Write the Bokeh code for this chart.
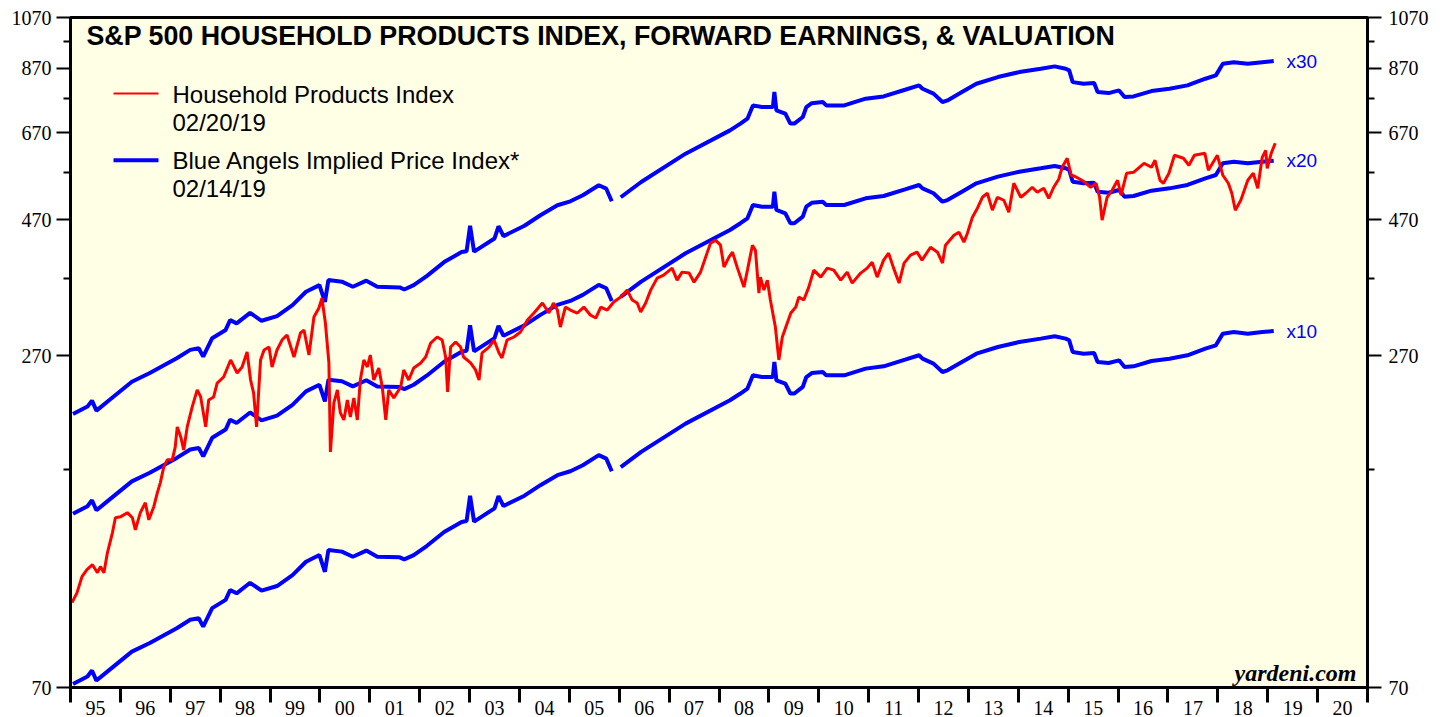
import numpy as np
from bokeh.plotting import figure
from bokeh.models import (FixedTicker, LogAxis, NumeralTickFormatter, Label, Range1d)
from bokeh.embed import file_html
from bokeh.resources import INLINE

# ---------------- data ----------------
# S&P 500 Household Products Index (red)
hp_year = [
    1995.03, 1995.13, 1995.23, 1995.33, 1995.44, 1995.54, 1995.60, 1995.67, 1995.74, 1995.84,
    1995.90, 1996.00, 1996.14, 1996.24, 1996.30, 1996.40, 1996.50, 1996.57, 1996.67, 1996.74,
    1996.80, 1996.87, 1996.94, 1997.04, 1997.10, 1997.14, 1997.21, 1997.27, 1997.34, 1997.44,
    1997.54, 1997.61, 1997.71, 1997.77, 1997.87, 1997.94, 1998.07, 1998.21, 1998.34, 1998.44,
    1998.54, 1998.61, 1998.67, 1998.73, 1998.81, 1998.88, 1998.98, 1999.04, 1999.14, 1999.24,
    1999.34, 1999.48, 1999.61, 1999.68, 1999.78, 1999.88, 1999.98, 2000.04, 2000.11, 2000.18,
    2000.21, 2000.28, 2000.35, 2000.41, 2000.48, 2000.55, 2000.61, 2000.68, 2000.75, 2000.81,
    2000.88, 2000.95, 2001.01, 2001.08, 2001.18, 2001.25, 2001.32, 2001.38, 2001.48, 2001.62,
    2001.68, 2001.78, 2001.88, 2002.02, 2002.12, 2002.22, 2002.35, 2002.45, 2002.52, 2002.56,
    2002.62, 2002.72, 2002.82, 2002.88, 2003.02, 2003.12, 2003.19, 2003.25, 2003.39, 2003.49,
    2003.59, 2003.65, 2003.75, 2003.89, 2004.02, 2004.16, 2004.29, 2004.46, 2004.59, 2004.68,
    2004.76, 2004.82, 2004.92, 2005.02, 2005.16, 2005.29, 2005.42, 2005.53, 2005.63, 2005.76,
    2005.89, 2006.03, 2006.16, 2006.26, 2006.36, 2006.43, 2006.53, 2006.63, 2006.76, 2006.89,
    2007.06, 2007.16, 2007.26, 2007.40, 2007.50, 2007.63, 2007.76, 2007.83, 2007.93, 2008.03,
    2008.10, 2008.20, 2008.27, 2008.37, 2008.50, 2008.57, 2008.67, 2008.73, 2008.80, 2008.83,
    2008.90, 2008.97, 2009.03, 2009.13, 2009.20, 2009.27, 2009.34, 2009.44, 2009.54, 2009.60,
    2009.70, 2009.80, 2009.90, 2010.04, 2010.17, 2010.30, 2010.44, 2010.57, 2010.67, 2010.84,
    2010.97, 2011.07, 2011.17, 2011.30, 2011.40, 2011.50, 2011.61, 2011.71, 2011.84, 2011.97,
    2012.07, 2012.24, 2012.38, 2012.48, 2012.54, 2012.71, 2012.81, 2012.91, 2012.98, 2013.08,
    2013.18, 2013.28, 2013.38, 2013.48, 2013.58, 2013.71, 2013.81, 2013.91, 2014.05, 2014.15,
    2014.28, 2014.38, 2014.51, 2014.61, 2014.71, 2014.81, 2014.88, 2014.98, 2015.06, 2015.13,
    2015.31, 2015.45, 2015.56, 2015.63, 2015.68, 2015.78, 2015.88, 2015.99, 2016.06, 2016.17,
    2016.31, 2016.52, 2016.67, 2016.74, 2016.84, 2016.91, 2017.02, 2017.13, 2017.31, 2017.42,
    2017.53, 2017.74, 2017.81, 2017.99, 2018.10, 2018.21, 2018.28, 2018.35, 2018.46, 2018.60,
    2018.71, 2018.80, 2018.89, 2018.96, 2018.99, 2019.07, 2019.15,
]
hp_value = [
    98.9, 102.9, 109.9, 113.1, 115.4, 111.7, 114.5, 111.7, 121.1, 131.4,
    139.7, 140.2, 142.6, 139.7, 133.0, 142.6, 148.5, 138.5, 146.1, 154.6,
    161.0, 171.8, 176.8, 176.8, 186.4, 202.2, 194.1, 184.1, 202.2, 219.3,
    235.0, 228.4, 202.2, 225.6, 228.4, 241.7, 247.7, 265.5, 251.8, 258.0,
    274.3, 244.7, 232.2, 202.2, 265.5, 276.5, 279.8, 258.0, 276.5, 287.9,
    293.9, 268.7, 296.3, 299.9, 270.9, 316.2, 328.0, 341.5, 308.5, 262.3,
    182.6, 222.9, 235.0, 214.0, 208.0, 225.6, 210.5, 227.5, 208.0, 244.7,
    265.5, 258.0, 270.9, 244.7, 257.0, 237.8, 208.0, 235.0, 227.5, 237.8,
    254.9, 244.7, 257.0, 262.3, 268.7, 284.4, 291.5, 287.9, 268.7, 233.1,
    279.8, 285.6, 279.8, 268.7, 262.3, 254.9, 244.7, 273.2, 279.8, 287.9,
    273.2, 267.7, 287.9, 291.5, 297.5, 312.3, 321.4, 334.7, 321.4, 334.7,
    325.3, 303.5, 329.3, 325.3, 321.4, 329.3, 318.8, 314.9, 329.3, 325.3,
    336.1, 342.9, 352.8, 338.8, 334.7, 322.7, 334.7, 352.8, 370.4, 375.0,
    385.8, 367.4, 379.6, 378.1, 364.4, 379.6, 410.1, 427.1, 432.3, 423.6,
    387.4, 403.4, 411.7, 385.8, 357.1, 382.7, 423.6, 415.1, 348.5, 371.9,
    352.8, 367.4, 338.8, 303.5, 265.5, 291.5, 303.5, 321.4, 329.3, 342.9,
    338.8, 357.1, 382.7, 371.9, 385.8, 382.7, 367.4, 379.6, 363.0, 378.1,
    385.8, 395.4, 371.9, 398.6, 410.1, 385.8, 363.0, 393.8, 406.8, 411.7,
    398.6, 420.1, 411.7, 393.8, 423.6, 441.2, 446.6, 428.8, 444.8, 474.7,
    492.3, 514.8, 523.3, 488.4, 514.8, 508.6, 484.4, 545.0, 514.8, 523.3,
    536.2, 525.4, 534.0, 512.7, 536.2, 554.0, 581.6, 603.3, 563.1, 560.8,
    549.4, 536.2, 545.0, 514.8, 468.9, 514.8, 529.7, 551.7, 519.1, 567.6,
    569.9, 591.2, 581.6, 598.4, 551.7, 545.0, 567.6, 610.7, 603.3, 586.4,
    610.7, 615.7, 574.6, 610.7, 563.1, 545.0, 523.3, 488.4, 508.6, 551.7,
    567.6, 534.0, 605.7, 623.2, 579.3, 615.7, 641.3,
]

# Forward earnings per share behind the Blue Angels implied price index
eps_year = [
    1995.05, 1995.34, 1995.43, 1995.52, 1995.78, 1996.23, 1996.59, 1997.13, 1997.40, 1997.57,
    1997.66, 1997.84, 1998.11, 1998.20, 1998.33, 1998.60, 1998.83, 1999.14, 1999.45, 1999.72,
    1999.99, 2000.10, 2000.17, 2000.44, 2000.66, 2000.93, 2001.15, 2001.60, 2001.69, 2001.88,
    2002.14, 2002.49, 2002.84, 2002.94, 2003.01, 2003.09, 2003.50, 2003.58, 2003.68, 2004.10,
    2004.42, 2004.76, 2005.02, 2005.27, 2005.59, 2005.74, 2005.85, 2005.94, 2006.03, 2006.44,
    2007.33, 2008.22, 2008.43, 2008.57, 2008.68, 2008.86, 2009.08, 2009.11, 2009.15, 2009.33,
    2009.43, 2009.51, 2009.68, 2009.75, 2009.86, 2010.08, 2010.15, 2010.51, 2010.94, 2011.30,
    2011.73, 2012.01, 2012.08, 2012.30, 2012.48, 2012.58, 2012.87, 2013.16, 2013.59, 2014.02,
    2014.45, 2014.73, 2014.95, 2015.02, 2015.09, 2015.31, 2015.52, 2015.59, 2015.81, 2016.02,
    2016.13, 2016.31, 2016.67, 2017.03, 2017.39, 2017.75, 2017.96, 2018.10, 2018.32, 2018.60,
    2018.89, 2019.12,
]
eps_value = [
    7.10, 7.32, 7.50, 7.20, 7.52, 8.10, 8.39, 8.91, 9.22, 9.28,
    8.97, 9.67, 10.00, 10.41, 10.27, 10.72, 10.38, 10.58, 11.06, 11.68,
    12.00, 11.21, 12.25, 12.17, 11.92, 12.22, 11.92, 11.89, 11.79, 12.00,
    12.45, 13.18, 13.73, 13.78, 15.28, 13.75, 14.51, 15.25, 14.65, 15.28,
    15.95, 16.61, 16.88, 17.30, 18.02, 17.77, 16.88, float("nan"), 17.16, 18.26,
    20.49, 22.53, 23.16, 23.63, 24.94, 24.77, 24.77, 26.33, 24.44, 24.11,
    23.16, 23.16, 23.79, 24.77, 25.17, 25.28, 24.94, 24.94, 25.63, 25.87,
    26.58, 27.06, 26.69, 26.16, 25.28, 25.45, 26.33, 27.24, 27.99, 28.56,
    28.96, 29.23, 28.96, 28.76, 27.42, 27.24, 27.31, 26.33, 26.22, 26.51,
    25.80, 25.87, 26.44, 26.69, 27.06, 27.80, 28.18, 29.55, 29.74, 29.55,
    29.74, 29.87,
]
multiples = [10, 20, 30]
multiple_labels = ["x10", "x20", "x30"]

y_ticks = [70, 270, 470, 670, 870, 1070]
y_minor_ticks = [170, 370, 570, 770, 970]
year_ticks = list(range(1995, 2022))
year_labels = ["95", "96", "97", "98", "99", "00", "01", "02", "03", "04", "05", "06", "07",
               "08", "09", "10", "11", "12", "13", "14", "15", "16", "17", "18", "19", "20"]

title_text = "S&P 500 HOUSEHOLD PRODUCTS INDEX, FORWARD EARNINGS, & VALUATION"
legend_texts = [("Household Products Index", "02/20/19"),
                ("Blue Angels Implied Price Index*", "02/14/19")]

# ---------------- layout helpers (frame-relative positions) ----------------
X0, X1 = 1995, 2021
Y0, Y1 = 70, 1070
FRAME_W, FRAME_H = 1297, 671


def fx(px):
    """x position given pixels from frame left"""
    return X0 + px * (X1 - X0) / FRAME_W


def fy(py):
    """y position given pixels from frame top (log scale)"""
    return Y1 * (Y0 / Y1) ** (py / FRAME_H)


RED = "#FF0000"
BLUE = "#0000FF"
SERIF = "Liberation Serif"
SANS = "Liberation Sans"

p = figure(width=1448, height=717, x_range=Range1d(X0, X1), y_range=Range1d(Y0, Y1),
           y_axis_type="log", output_backend="svg", toolbar_location=None,
           min_border_left=70, min_border_right=81, min_border_top=17, min_border_bottom=29)

p.background_fill_color = "#FFFFE5"
p.border_fill_color = "white"
p.outline_line_color = "black"
p.outline_line_width = 3
p.xgrid.visible = False
p.ygrid.visible = False

# x axis: long ticks at year boundaries (minor), labels mid-year (major, no tick)
xa = p.xaxis[0]
xa.ticker = FixedTicker(ticks=[y + 0.5 for y in year_ticks[:-1]], minor_ticks=year_ticks)
xa.major_label_overrides = {y + 0.5: lab for y, lab in zip(year_ticks, year_labels)}
xa.major_tick_out = 0
xa.major_tick_in = 0
xa.major_tick_line_color = None
xa.minor_tick_out = 15
xa.minor_tick_in = 0
xa.minor_tick_line_width = 3
xa.minor_tick_line_color = "black"
xa.major_label_text_font = SERIF
xa.major_label_text_font_size = "20px"
xa.major_label_text_color = "black"
xa.major_label_standoff = -2
xa.axis_line_width = 3


def style_y(ax, standoff):
    ax.ticker = FixedTicker(ticks=y_ticks, minor_ticks=y_minor_ticks)
    ax.formatter = NumeralTickFormatter(format="0")
    ax.major_tick_out = 14
    ax.major_tick_in = 0
    ax.minor_tick_out = 7
    ax.minor_tick_in = 0
    ax.major_tick_line_width = 2
    ax.minor_tick_line_width = 2
    ax.axis_line_width = 3
    ax.major_label_text_font = SERIF
    ax.major_label_text_font_size = "20px"
    ax.major_label_text_color = "black"
    ax.major_label_standoff = standoff


style_y(p.yaxis[0], 5)
ra = LogAxis()
style_y(ra, 7)
p.add_layout(ra, "right")

# blue angels lines
eps_arr = np.array(eps_value)
for m, lab in zip(multiples, multiple_labels):
    p.line(eps_year, eps_arr * m, line_color=BLUE, line_width=4)
    p.add_layout(Label(x=fx(1216), y=eps_value[-1] * m, text=lab, text_color=BLUE,
                       text_font=SANS, text_font_size="19px", text_baseline="middle",
                       text_align="left"))

# household products index
p.line(hp_year, hp_value, line_color=RED, line_width=3)

# title
p.add_layout(Label(x=fx(16), y=fy(19), text=title_text, text_font=SANS,
                   text_font_style="bold", text_font_size="26.8px", text_color="black",
                   text_baseline="middle"))

# legend (manual)
p.line([fx(43), fx(88)], [fy(76), fy(76)], line_color=RED, line_width=2)
p.line([fx(43), fx(88)], [fy(143), fy(143)], line_color=BLUE, line_width=4)
for (t1, t2), c1 in zip(legend_texts, [77, 143]):
    p.add_layout(Label(x=fx(102), y=fy(c1), text=t1, text_font=SANS,
                       text_font_size="24px", text_color="black", text_baseline="middle"))
    p.add_layout(Label(x=fx(102), y=fy(c1 + 28), text=t2, text_font=SANS,
                       text_font_size="24px", text_color="black", text_baseline="middle"))

# source
p.add_layout(Label(x=fx(1286), y=fy(FRAME_H - 15), text="yardeni.com", text_font=SERIF,
                   text_font_style="bold italic", text_font_size="24px", text_color="black",
                   text_align="right", text_baseline="middle"))

open("out.html", "w").write(file_html(p, INLINE))
